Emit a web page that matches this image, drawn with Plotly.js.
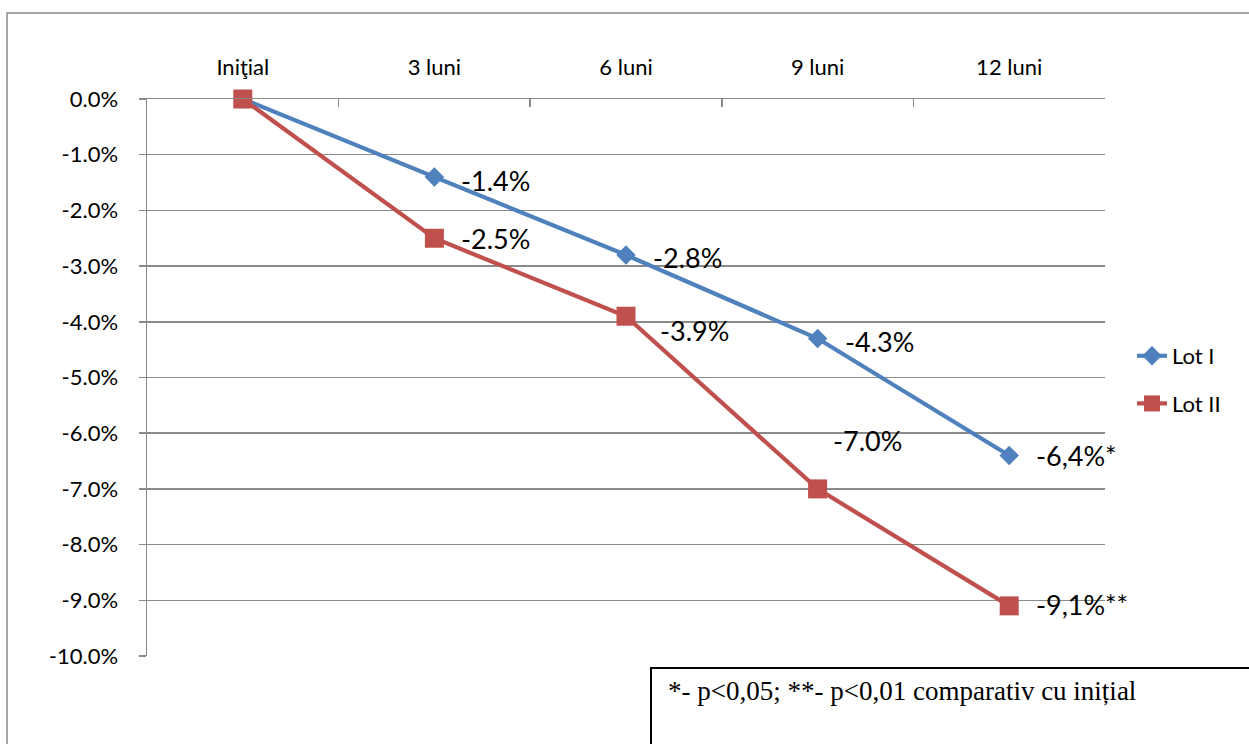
<!DOCTYPE html>
<html>
<head>
<meta charset="utf-8">
<script src="https://cdn.plot.ly/plotly-3.0.1.min.js"></script>
<style>html,body{margin:0;padding:0;background:#fff;}#chart{width:1249px;height:744px;}</style>
</head>
<body>
<div id="chart"></div>
<script>
// ---- data ----
const categories = ["Iniţial", "3 luni", "6 luni", "9 luni", "12 luni"];
const lotIValues = [0, -1.4, -2.8, -4.3, -6.4];
const lotIIValues = [0, -2.5, -3.9, -7.0, -9.1];
const lotILabels = ["", "-1.4%", "-2.8%", "-4.3%", "-6,4%*"];
const lotIILabels = ["", "-2.5%", "-3.9%", "-7.0%", "-9,1%**"];
const yTickValues = [0, -1, -2, -3, -4, -5, -6, -7, -8, -9, -10];
const yTickLabels = ["0.0%", "-1.0%", "-2.0%", "-3.0%", "-4.0%", "-5.0%", "-6.0%", "-7.0%", "-8.0%", "-9.0%", "-10.0%"];
const seriesNames = ["Lot I", "Lot II"];
const noteText = "*- p<0,05; **- p<0,01 comparativ cu inițial";

// ---- layout geometry ----
const W = 1249, H = 744;
const M = {l: 147, r: 144, t: 99, b: 88};
const PW = W - M.l - M.r, PH = H - M.t - M.b;
const px2x = px => (px - M.l) / PW;
const py2y = py => (H - M.b - py) / PH;

const blue = "#4F81BD", red = "#C0504D";
const font = "Lato, 'Open Sans', sans-serif";

const traces = [
  {x: categories, y: lotIValues, name: seriesNames[0], type: "scatter", mode: "lines+markers",
   line: {color: blue, width: 4.2}, marker: {symbol: "diamond", size: 15, color: blue},
   legendgroup: "a", cliponaxis: false},
  {x: categories, y: lotIIValues, name: seriesNames[1], type: "scatter", mode: "lines+markers",
   line: {color: red, width: 4.2}, marker: {symbol: "square", size: 19, color: red},
   legendgroup: "b", cliponaxis: false}
];

// label offsets (style, pixels)
const offI = [[0,0],[25,-4],[25,-3],[25,-3],[25,0]];
const offII = [[0,0],[25,0],[32,-14],[13,48],[25,1]];
const annotations = [];
function addLabels(vals, labels, offs) {
  vals.forEach((v, i) => {
    if (!labels[i]) return;
    annotations.push({x: categories[i], y: v, xref: "x", yref: "y", text: labels[i],
      showarrow: false, xanchor: "left", yanchor: "middle",
      xshift: offs[i][0], yshift: offs[i][1],
      font: {family: font, size: 27, color: "#000"}});
  });
}
addLabels(lotIValues, lotILabels, offI);
addLabels(lotIIValues, lotIILabels, offII);
annotations.push({xref: "paper", yref: "paper", x: px2x(666), y: py2y(691), text: noteText,
  showarrow: false, xanchor: "left", yanchor: "middle",
  font: {family: "'Liberation Serif', 'Times New Roman', serif", size: 27, color: "#000"}});

const shapes = [
  {type: "rect", xref: "paper", yref: "paper", x0: px2x(7), x1: px2x(1300), y0: py2y(800), y1: py2y(13),
   line: {color: "#8a8a8a", width: 1.5}, fillcolor: "rgba(0,0,0,0)", layer: "below"},
  {type: "rect", xref: "paper", yref: "paper", x0: px2x(651), x1: px2x(1300), y0: py2y(800), y1: py2y(668),
   line: {color: "#000", width: 2}, fillcolor: "#fff", layer: "above"}
];

const layout = {
  width: W, height: H, margin: M,
  paper_bgcolor: "#fff", plot_bgcolor: "#fff",
  font: {family: font, size: 22, color: "#000"},
  showlegend: true,
  legend: {x: px2x(1132), y: py2y(335), xanchor: "left", yanchor: "top",
    font: {family: font, size: 22, color: "#000"}, traceorder: "grouped", tracegroupgap: 16,
    bgcolor: "rgba(0,0,0,0)"},
  xaxis: {type: "category", side: "top", range: [-0.5, 4.5], showgrid: false, zeroline: false,
    showline: true, linecolor: "#8a8a8a", linewidth: 1.5,
    ticks: "inside", tickson: "boundaries", ticklen: 8, tickcolor: "#8a8a8a", tickwidth: 1.5,
    ticklabelstandoff: 14, tickfont: {family: font, size: 22, color: "#000"}},
  yaxis: {range: [-10, 0], tickmode: "array", tickvals: yTickValues, ticktext: yTickLabels,
    showgrid: true, gridcolor: "#8a8a8a", gridwidth: 1.5, zeroline: false,
    showline: true, linecolor: "#8a8a8a", linewidth: 1.5,
    ticks: "outside", ticklen: 7, tickcolor: "#8a8a8a", tickwidth: 1.5,
    ticklabelstandoff: 16, tickfont: {family: font, size: 22, color: "#000"}},
  annotations: annotations,
  shapes: shapes
};

Plotly.newPlot("chart", traces, layout, {displayModeBar: false, staticPlot: true});
</script>
</body>
</html>
